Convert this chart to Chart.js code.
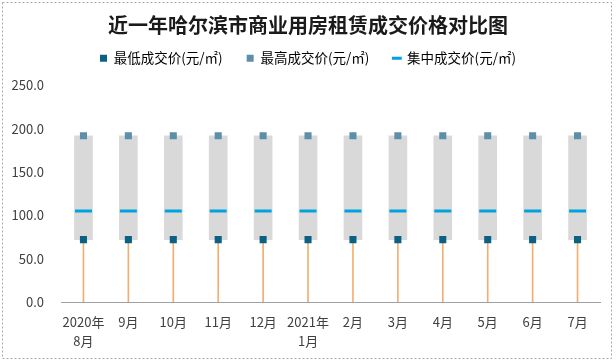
<!DOCTYPE html>
<html>
<head>
<meta charset="utf-8">
<script src="https://cdn.jsdelivr.net/npm/chart.js@4/dist/chart.umd.min.js"></script>
<style>
html,body{margin:0;padding:0;background:#fff;}
canvas{display:block;}
</style>
</head>
<body>
<canvas id="c" width="616" height="364"></canvas>
<script>
const categories = [["2020年","8月"],"9月","10月","11月","12月",["2021年","1月"],"2月","3月","4月","5月","6月","7月"];
const lowPrice  = [72,72,72,72,72,72,72,72,72,72,72,72];
const highPrice = [192,192,192,192,192,192,192,192,192,192,192,192];
const midPrice  = [105,105,105,105,105,105,105,105,105,105,105,105];
const seriesNames = ["最低成交价(元/㎡)","最高成交价(元/㎡)","集中成交价(元/㎡)"];
const yTicks = [0,50,100,150,200,250];
const titleText = "近一年哈尔滨市商业用房租赁成交价格对比图";

const FONT = "'Noto Sans CJK SC', 'Noto Sans', sans-serif";
const cLow = '#0B6184', cHigh = '#5E8FA8', cMid = '#00A3DF', cBar = '#D9D9D9', cDrop = '#F2AE72';

const framePlugin = {
  id: 'frame',
  beforeDraw(chart){
    const ctx = chart.ctx;
    ctx.save();
    ctx.fillStyle = '#fff';
    ctx.fillRect(0,0,chart.width,chart.height);
    ctx.restore();
  },
  afterDraw(chart){
    const ctx = chart.ctx;
    ctx.save();
    ctx.strokeStyle = '#A6A6A6';
    ctx.lineWidth = 1;
    ctx.setLineDash([2,2]);
    ctx.strokeRect(2.5, 2.5, 609, 356);
    ctx.restore();
  }
};

new Chart(document.getElementById('c'), {
  type: 'bar',
  data: {
    labels: categories,
    datasets: [
      { type:'line', label: seriesNames[0], data: lowPrice, showLine:false, pointStyle:'rect',
        pointRadius:5, pointHoverRadius:5, pointBackgroundColor:cLow, pointBorderColor:cLow, pointBorderWidth:0, order:0 },
      { type:'line', label: seriesNames[1], data: highPrice, showLine:false, pointStyle:'rect',
        pointRadius:5, pointHoverRadius:5, pointBackgroundColor:cHigh, pointBorderColor:cHigh, pointBorderWidth:0, order:0 },
      { type:'line', label: seriesNames[2], data: midPrice, showLine:false, pointStyle:'line',
        pointRadius:8.5, pointHoverRadius:8.5, pointBorderColor:cMid, pointBackgroundColor:cMid, pointBorderWidth:3, order:1 },
      { type:'bar', label:'range', data: lowPrice.map((v,i)=>[v, highPrice[i]]), backgroundColor:cBar,
        barThickness:18, grouped:false, order:3 },
      { type:'bar', label:'drop', data: lowPrice.map(v=>[0, v]), backgroundColor:cDrop,
        barThickness:1, grouped:false, order:4 }
    ]
  },
  options: {
    responsive:false,
    animation:false,
    devicePixelRatio:1,
    layout:{ padding:{ left:0, right:0, top:0, bottom:0 } },
    plugins:{
      tooltip:{enabled:false},
      title:{ display:true, text:titleText, color:'#1a1a1a',
        font:{ family:FONT, size:20, weight:'bold', lineHeight:1.2 },
        padding:{ top:13, bottom:-9.5 } },
      subtitle:{ display:true, text:'', position:'top', font:{size:1, lineHeight:1}, padding:{top:0,bottom:9.5} },
      legend:{ display:true, position:'top', weight:1600,
        labels:{ usePointStyle:true, boxWidth:7, boxHeight:7, padding:24, color:'#404040',
          font:{ family:FONT, size:13.5 },
          generateLabels: () => [
            { text: seriesNames[0], fillStyle:cLow, strokeStyle:cLow, lineWidth:0, pointStyle:'rect', datasetIndex:0, hidden:false },
            { text: seriesNames[1], fillStyle:cHigh, strokeStyle:cHigh, lineWidth:0, pointStyle:'rect', datasetIndex:1, hidden:false },
            { text: seriesNames[2], fillStyle:cMid, strokeStyle:cMid, lineWidth:3, pointStyle:'line', datasetIndex:2, hidden:false }
          ]
        }
      }
    },
    scales:{
      x:{
        offset:true,
        grid:{ display:false, drawTicks:false },
        border:{ display:true, color:'#A0A0A0', width:1 },
        ticks:{ color:'#404040', font:{ family:FONT, size:13, lineHeight:1.5 }, padding:10, maxRotation:0, autoSkip:false },
        afterFit(s){ s.height = 62; }
      },
      y:{
        min:0, max:250,
        afterBuildTicks(s){ s.ticks = yTicks.map(v=>({value:v})); },
        grid:{ display:false, drawTicks:false },
        border:{ display:false },
        ticks:{ color:'#404040', font:{ family:FONT, size:13 }, padding:17,
          callback:(v)=>Number(v).toFixed(1) },
        afterFit(s){ s.width = 61; }
      },
      yR:{
        position:'right', display:true, min:0, max:250,
        grid:{ display:false, drawTicks:false },
        border:{ display:false },
        ticks:{ display:false },
        afterFit(s){ s.width = 16; }
      }
    }
  },
  plugins:[framePlugin]
});
</script>
</body>
</html>
